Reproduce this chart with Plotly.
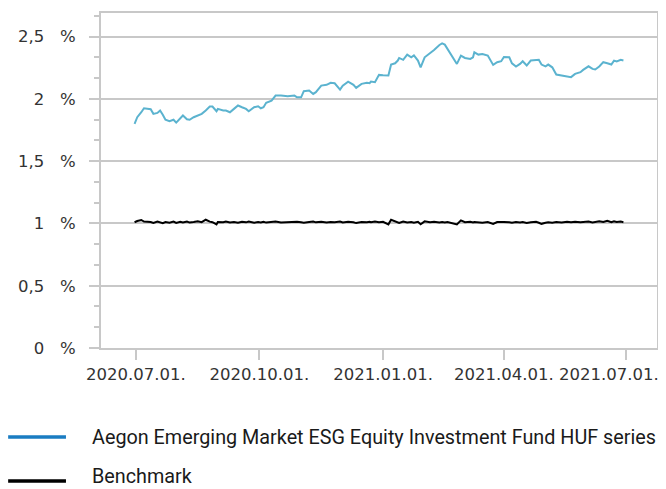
import plotly.graph_objects as go

dates = [
    "2020-06-30", "2020-07-02", "2020-07-05", "2020-07-07", "2020-07-12", "2020-07-14", "2020-07-17", "2020-07-19",
    "2020-07-21", "2020-07-23", "2020-07-26", "2020-07-29", "2020-07-31", "2020-08-03", "2020-08-05", "2020-08-08",
    "2020-08-10", "2020-08-13", "2020-08-16", "2020-08-19", "2020-08-22", "2020-08-25", "2020-08-27", "2020-08-30",
    "2020-08-31", "2020-09-04", "2020-09-06", "2020-09-09", "2020-09-12", "2020-09-15", "2020-09-18", "2020-09-21",
    "2020-09-23", "2020-09-27", "2020-09-30", "2020-10-02", "2020-10-04", "2020-10-06", "2020-10-10", "2020-10-13",
    "2020-10-17", "2020-10-22", "2020-10-27", "2020-10-29", "2020-11-01", "2020-11-03", "2020-11-07", "2020-11-10",
    "2020-11-12", "2020-11-16", "2020-11-20", "2020-11-23", "2020-11-26", "2020-11-30", "2020-12-02", "2020-12-06",
    "2020-12-10", "2020-12-12", "2020-12-16", "2020-12-20", "2020-12-22", "2020-12-23", "2020-12-26", "2020-12-29",
    "2021-01-01", "2021-01-05", "2021-01-07", "2021-01-10", "2021-01-12", "2021-01-13", "2021-01-16", "2021-01-19",
    "2021-01-22", "2021-01-24", "2021-01-27", "2021-01-29", "2021-02-01", "2021-02-05", "2021-02-08", "2021-02-12",
    "2021-02-14", "2021-02-16", "2021-02-18", "2021-02-21", "2021-02-25", "2021-02-28", "2021-03-03", "2021-03-07",
    "2021-03-09", "2021-03-10", "2021-03-13", "2021-03-16", "2021-03-20", "2021-03-24", "2021-03-27", "2021-03-30",
    "2021-04-01", "2021-04-05", "2021-04-07", "2021-04-10", "2021-04-13", "2021-04-15", "2021-04-18", "2021-04-21",
    "2021-04-25", "2021-04-27", "2021-04-29", "2021-05-02", "2021-05-04", "2021-05-07", "2021-05-10", "2021-05-14",
    "2021-05-18", "2021-05-21", "2021-05-24", "2021-05-28", "2021-05-30", "2021-06-03", "2021-06-06", "2021-06-08",
    "2021-06-11", "2021-06-14", "2021-06-17", "2021-06-20", "2021-06-22", "2021-06-24", "2021-06-27", "2021-06-29",
]

fund = [
    1.800, 1.853, 1.893, 1.925, 1.917, 1.880, 1.888, 1.907,
    1.873, 1.833, 1.822, 1.833, 1.810, 1.845, 1.867, 1.837,
    1.833, 1.853, 1.865, 1.880, 1.907, 1.939, 1.939, 1.901,
    1.920, 1.907, 1.907, 1.893, 1.920, 1.947, 1.933, 1.920,
    1.901, 1.933, 1.941, 1.925, 1.933, 1.969, 1.987, 2.027,
    2.027, 2.022, 2.027, 2.013, 2.013, 2.062, 2.067, 2.040,
    2.054, 2.107, 2.113, 2.129, 2.126, 2.075, 2.107, 2.139,
    2.113, 2.089, 2.121, 2.129, 2.126, 2.139, 2.134, 2.193,
    2.190, 2.188, 2.276, 2.286, 2.308, 2.329, 2.314, 2.356,
    2.334, 2.350, 2.308, 2.254, 2.334, 2.366, 2.393, 2.433,
    2.446, 2.436, 2.401, 2.348, 2.281, 2.348, 2.329, 2.321,
    2.334, 2.374, 2.356, 2.361, 2.348, 2.273, 2.295, 2.303,
    2.337, 2.334, 2.286, 2.260, 2.281, 2.303, 2.268, 2.308,
    2.316, 2.314, 2.276, 2.262, 2.276, 2.254, 2.196, 2.188,
    2.175, 2.175, 2.201, 2.215, 2.233, 2.262, 2.241, 2.236,
    2.260, 2.295, 2.286, 2.276, 2.308, 2.301, 2.314, 2.308,
]

benchmark = [
    1.010, 1.020, 1.028, 1.015, 1.012, 1.005, 1.015, 1.008,
    1.003, 1.012, 1.006, 1.015, 1.004, 1.013, 1.008, 1.016,
    1.007, 1.012, 1.018, 1.010, 1.030, 1.015, 1.010, 0.992,
    1.012, 1.010, 1.015, 1.008, 1.012, 1.006, 1.013, 1.009,
    1.015, 1.005, 1.012, 1.008, 1.014, 1.007, 1.011, 1.016,
    1.008, 1.012, 1.010, 1.013, 1.009, 1.006, 1.012, 1.016,
    1.009, 1.013, 1.007, 1.012, 1.010, 1.015, 1.008, 1.013,
    1.010, 1.003, 1.012, 1.009, 1.014, 1.010, 1.016, 1.010,
    1.013, 0.993, 1.030, 1.015, 1.010, 1.004, 1.016, 1.008,
    1.012, 1.006, 1.013, 0.994, 1.017, 1.010, 1.013, 1.008,
    1.012, 1.007, 1.011, 1.005, 0.992, 1.025, 1.010, 1.014,
    1.008, 1.012, 1.010, 1.006, 1.012, 0.996, 1.011, 1.015,
    1.012, 1.009, 1.005, 1.011, 1.008, 1.012, 1.004, 1.009,
    1.013, 1.006, 0.997, 1.005, 1.010, 1.006, 1.012, 1.008,
    1.013, 1.009, 1.014, 1.010, 1.012, 1.015, 1.008, 1.013,
    1.017, 1.012, 1.022, 1.010, 1.018, 1.012, 1.015, 1.010,
]

x_tickvals = ["2020-07-01", "2020-10-01", "2021-01-01", "2021-04-01", "2021-07-01"]
x_ticktext = ["2020.07.01.", "2020.10.01.", "2021.01.01.", "2021.04.01.", "2021.07.01."]
y_tickvals = [0, 0.5, 1, 1.5, 2, 2.5]
y_ticktext = ["0\u00a0\u00a0\u00a0%", "0,5\u00a0\u00a0\u00a0%", "1\u00a0\u00a0\u00a0%",
              "1,5\u00a0\u00a0\u00a0%", "2\u00a0\u00a0\u00a0%", "2,5\u00a0\u00a0\u00a0%"]

series_names = ["Aegon Emerging Market ESG Equity Investment Fund HUF series", "Benchmark"]
line_colors = ["#5bb3cf", "#000000"]
legend_colors = ["#1a7cc2", "#000000"]

GRID = "#c8c8c8"
TICKFONT = dict(family="DejaVu Sans", size=16.5, color="#333333")

fig = go.Figure()
fig.add_trace(go.Scatter(x=dates, y=fund, mode="lines", name=series_names[0],
                         line=dict(color=line_colors[0], width=2), showlegend=False))
fig.add_trace(go.Scatter(x=dates, y=benchmark, mode="lines", name=series_names[1],
                         line=dict(color=line_colors[1], width=2), showlegend=False))

# the last x tick label is shifted left (as in the reference) so it stays inside the page
fig.add_annotation(xref="x", yref="paper", x=x_tickvals[-1], y=-0.078,
                   text=x_ticktext[-1], showarrow=False, xanchor="center", yanchor="middle",
                   xshift=-17, font=TICKFONT)

# legend drawn manually (paper coords relative to plot area)
legend_y = [-0.266, -0.397]
legend_text_shift = [0, 4]
for i, name in enumerate(series_names):
    fig.add_shape(type="line", xref="paper", yref="paper",
                  x0=-0.167, x1=-0.063, y0=legend_y[i], y1=legend_y[i],
                  line=dict(color=legend_colors[i], width=3.5))
    fig.add_annotation(xref="paper", yref="paper", x=-0.0165, y=legend_y[i],
                       text=name, showarrow=False, xanchor="left", yanchor="middle",
                       xshift=-2, yshift=legend_text_shift[i],
                       font=dict(family="Roboto", size=19.8, color="#1a1a1a"))

# page has an 8px body margin, so the figure is sized to fill the rest of the window
fig.update_layout(
    width=658, height=481,
    margin=dict(l=93, r=9, t=5, b=141, autoexpand=False),
    paper_bgcolor="white", plot_bgcolor="white",
    showlegend=False,
)
fig.update_xaxes(
    range=["2020-06-05", "2021-07-24"],
    tickvals=x_tickvals, ticktext=x_ticktext[:-1] + [""],
    showgrid=False, zeroline=False, automargin=False,
    showline=True, linecolor=GRID, linewidth=2, mirror=True,
    ticks="outside", ticklen=10, tickwidth=2, tickcolor=GRID,
    tickfont=TICKFONT,
)
fig.update_yaxes(
    range=[0, 2.69],
    tickvals=y_tickvals, ticktext=y_ticktext,
    showgrid=True, gridcolor=GRID, gridwidth=2, zeroline=False, automargin=False,
    showline=True, linecolor=GRID, linewidth=2, mirror=True,
    ticks="outside", ticklen=10, tickwidth=2, tickcolor=GRID,
    ticklabelstandoff=10,
    minor=dict(dtick=0.5 / 3, tick0=0, ticks="outside", ticklen=5, tickwidth=2,
               tickcolor=GRID, showgrid=False),
    tickfont=TICKFONT,
)

fig.write_html("out.html")
